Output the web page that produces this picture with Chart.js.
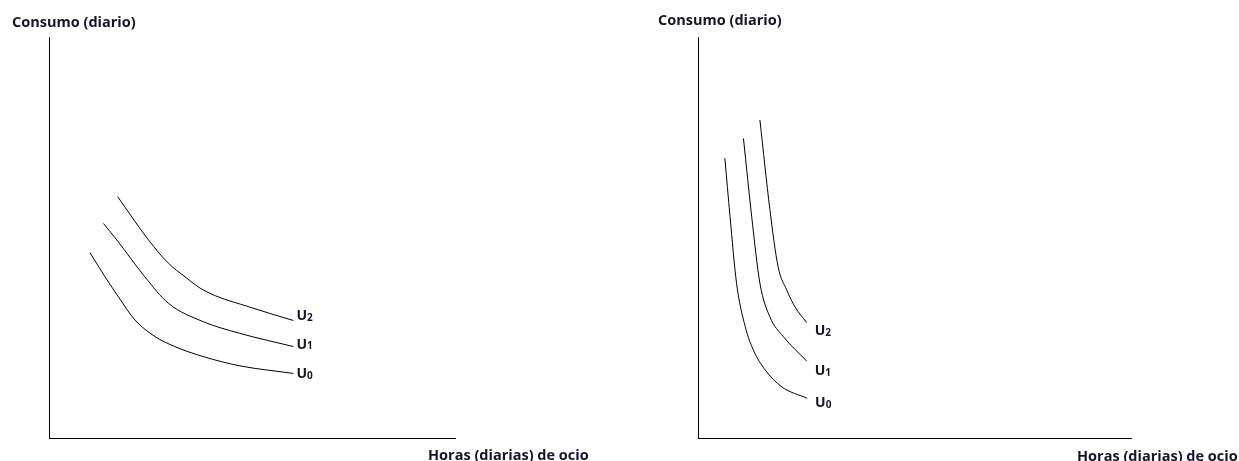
<!DOCTYPE html>
<html>
<head>
<meta charset="utf-8">
<script src="https://cdn.jsdelivr.net/npm/chart.js@4/dist/chart.umd.min.js"></script>
<style>
  html, body { margin: 0; padding: 0; background: #fff; }
  body { width: 1239px; height: 461px; position: relative; overflow: hidden; font-family: "Open Sans", Lato, sans-serif; }
  .panel { position: absolute; top: 0; height: 461px; }
  .lbl { position: absolute; font-weight: bold; font-size: 14.5px; color: #14142a; white-space: nowrap; line-height: 1; }
</style>
</head>
<body>
<div class="panel" style="left:0;width:620px"><canvas id="c1"></canvas></div>
<div class="panel" style="left:620px;width:619px"><canvas id="c2"></canvas></div>
<div class="lbl" style="left:12px;top:15px">Consumo (diario)</div>
<div class="lbl" style="left:428px;top:448px">Horas (diarias) de ocio</div>
<div class="lbl" style="left:658px;top:13px">Consumo (diario)</div>
<div class="lbl" style="left:1077px;top:449px">Horas (diarias) de ocio</div>
<script>
// ---- Data (axis units 0..100) ----
const curveNames = ["U0", "U1", "U2"];
const axisTitleY = "Consumo (diario)";
const axisTitleX = "Horas (diarias) de ocio";

// Left panel
const leftU0x = [10.1, 13.8, 17.1, 21.2, 26.1, 31.0, 38.0, 47.0, 60.2];
const leftU0y = [46.2, 40.2, 35.2, 29.4, 25.3, 22.8, 20.3, 18.0, 16.1];
const leftU1x = [13.4, 16.7, 23.6, 29.4, 38.0, 47.0, 60.2];
const leftU1y = [53.5, 49.4, 40.2, 33.6, 29.0, 26.1, 22.8];
const leftU2x = [16.9, 24.5, 29.4, 33.5, 38.0, 50.2, 60.2];
const leftU2y = [60.2, 49.4, 43.6, 40.2, 36.9, 32.4, 29.3];

// Right panel
const rightU0x = [6.2, 7.4, 8.9, 10.9, 12.8, 15.5, 19.3, 25.2];
const rightU0y = [69.8, 55.2, 38.6, 27.8, 21.9, 17.0, 12.8, 9.9];
const rightU1x = [10.5, 12.4, 14.3, 16.6, 19.7, 25.1];
const rightU1y = [74.7, 55.2, 38.6, 30.2, 25.3, 19.2];
const rightU2x = [14.3, 16.6, 18.5, 20.5, 22.4, 25.1];
const rightU2y = [79.3, 57.0, 42.7, 36.9, 32.7, 28.8];

function pts(xs, ys) { return xs.map((x, i) => ({ x: x, y: ys[i] })); }

const curveLabelPlugin = {
  id: 'curveLabels',
  afterDatasetsDraw(chart) {
    const ctx = chart.ctx;
    const xs = chart.scales.x, ys = chart.scales.y;
    chart.data.datasets.forEach(ds => {
      const last = ds.data[ds.data.length - 1];
      const px = xs.getPixelForValue(last.x) + ds.labelDx;
      const py = ys.getPixelForValue(last.y) + ds.labelDy;
      const main = ds.label.charAt(0), sub = ds.label.slice(1);
      ctx.save();
      ctx.fillStyle = '#14142a';
      ctx.textBaseline = 'middle';
      ctx.textAlign = 'left';
      ctx.font = 'bold 14px "Open Sans", Lato, sans-serif';
      ctx.fillText(main, px, py);
      const w = ctx.measureText(main).width;
      ctx.font = 'bold 10px "Open Sans", Lato, sans-serif';
      ctx.fillText(sub, px + w, py + 2);
      ctx.restore();
    });
  }
};

function makeChart(id, series, padding, offsets) {
  const datasets = series.map((s, i) => ({
    label: curveNames[i],
    data: s,
    showLine: true,
    borderColor: '#000',
    borderWidth: 1,
    pointRadius: 0,
    fill: false,
    cubicInterpolationMode: 'monotone',
    labelDx: offsets[i][0],
    labelDy: offsets[i][1]
  }));
  return new Chart(document.getElementById(id), {
    type: 'scatter',
    data: { datasets },
    options: {
      responsive: true,
      maintainAspectRatio: false,
      animation: false,
      layout: { padding: padding },
      plugins: { legend: { display: false }, tooltip: { enabled: false } },
      scales: {
        x: {
          type: 'linear', min: 0, max: 100, position: 'bottom',
          grid: { display: false, drawTicks: false },
          border: { display: true, color: '#000', width: 1 },
          ticks: { display: false }
        },
        y: {
          type: 'linear', min: 0, max: 100, position: 'left',
          grid: { display: false, drawTicks: false },
          border: { display: true, color: '#000', width: 1 },
          ticks: { display: false }
        }
      }
    },
    plugins: [curveLabelPlugin]
  });
}

makeChart('c1',
  [pts(leftU0x, leftU0y), pts(leftU1x, leftU1y), pts(leftU2x, leftU2y)],
  { left: 49, top: 37, right: 165, bottom: 23 },
  [[3, 1], [3, -2], [3, -4]]);

makeChart('c2',
  [pts(rightU0x, rightU0y), pts(rightU1x, rightU1y), pts(rightU2x, rightU2y)],
  { left: 78, top: 37, right: 108, bottom: 23 },
  [[8, 5], [8, 10], [8, 9]]);
</script>
</body>
</html>
